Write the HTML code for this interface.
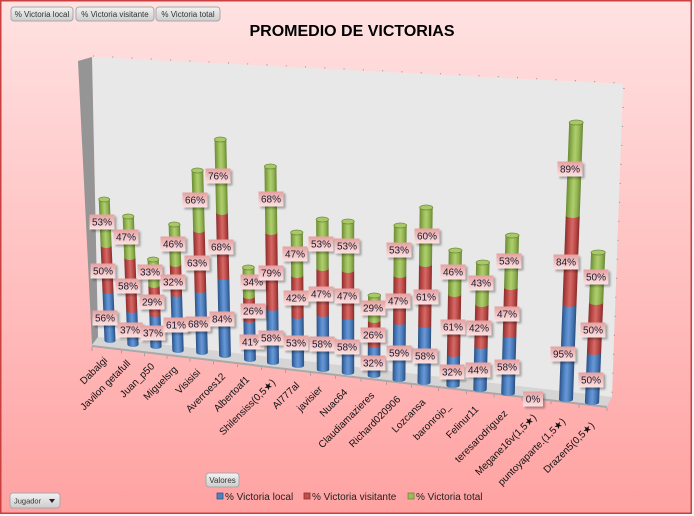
<!DOCTYPE html>
<html><head><meta charset="utf-8">
<style>
html,body{margin:0;padding:0;background:#f2f2f2;}
svg{display:block;font-family:"Liberation Sans","DejaVu Sans",sans-serif;}
.dl{font-size:10px;text-anchor:middle;fill:#1b1b2f;}
.ax{font-size:10px;text-anchor:end;fill:#111;}
.cap{fill:#a9c969;stroke:#6f8c3a;stroke-width:0.8;}
.bt{font-size:8px;fill:#333;text-anchor:middle;}
.lg{font-size:10px;fill:#222;}
</style></head><body>
<svg width="694" height="516" viewBox="0 0 694 516" xmlns="http://www.w3.org/2000/svg">
<defs>
<linearGradient id="bg" x1="0" y1="0" x2="0" y2="1">
<stop offset="0" stop-color="#ffe2e2"/><stop offset="1" stop-color="#ffa2a2"/></linearGradient>
<linearGradient id="gb" x1="0" y1="0" x2="1" y2="0">
<stop offset="0" stop-color="#2b5185"/><stop offset="0.3" stop-color="#4f83c4"/><stop offset="0.5" stop-color="#6898d6"/><stop offset="0.75" stop-color="#4a7bb8"/><stop offset="1" stop-color="#2a4e80"/></linearGradient>
<linearGradient id="gr" x1="0" y1="0" x2="1" y2="0">
<stop offset="0" stop-color="#8a2e2c"/><stop offset="0.3" stop-color="#c24f4c"/><stop offset="0.5" stop-color="#d46a67"/><stop offset="0.75" stop-color="#bd4b48"/><stop offset="1" stop-color="#872c2a"/></linearGradient>
<linearGradient id="gg" x1="0" y1="0" x2="1" y2="0">
<stop offset="0" stop-color="#6c8a36"/><stop offset="0.3" stop-color="#98ba56"/><stop offset="0.5" stop-color="#afcf6e"/><stop offset="0.75" stop-color="#94b553"/><stop offset="1" stop-color="#6a8735"/></linearGradient>
<linearGradient id="lgd" x1="0" y1="0" x2="0" y2="1">
<stop offset="0" stop-color="#e5a0a0"/><stop offset="1" stop-color="#fce3e3"/></linearGradient>
<linearGradient id="btn" x1="0" y1="0" x2="0" y2="1">
<stop offset="0" stop-color="#f2f2f2"/><stop offset="1" stop-color="#cdcdcd"/></linearGradient>
<filter id="bl" x="-30%" y="-50%" width="160%" height="200%"><feGaussianBlur stdDeviation="1.1"/></filter>
<g id="lb"><rect x="-10.5" y="-5.5" width="25" height="15" fill="#000" opacity="0.3" filter="url(#bl)"/><rect x="-12.5" y="-7.5" width="25" height="15" fill="url(#lgd)"/></g>
</defs>

<!-- background -->
<rect x="0.75" y="0.75" width="690.5" height="512.5" fill="url(#bg)" stroke="#c9403f" stroke-width="1.5"/>

<!-- title -->
<text x="352" y="36" text-anchor="middle" font-size="16" font-weight="bold" fill="#000">PROMEDIO DE VICTORIAS</text>

<!-- field buttons -->
<rect x="11" y="7" width="62" height="14" rx="3" fill="url(#btn)" stroke="#a8a8a8"/>
<text class="bt" x="42" y="17">% Victoria local</text>
<rect x="76" y="7" width="78" height="14" rx="3" fill="url(#btn)" stroke="#a8a8a8"/>
<text class="bt" x="115" y="17">% Victoria visitante</text>
<rect x="156" y="7" width="64" height="14" rx="3" fill="url(#btn)" stroke="#a8a8a8"/>
<text class="bt" x="188" y="17">% Victoria total</text>

<!-- walls -->
<polygon points="92,57 623,84 612,397 98,337" fill="#e8e8e8"/>
<polygon points="78,61 92,57 98,337 92,345" fill="#959595"/>
<polygon points="92,345 98,337 612,397 607,406" fill="#d5d5d5"/>
<polygon points="92,345 607,406 607,408 92,347" fill="#a9a9a9"/>
<line x1="93" y1="56" x2="622" y2="83" stroke="#9a9a9a" stroke-width="1.2" stroke-dasharray="1 18.3"/>
<line x1="624" y1="88" x2="612" y2="395" stroke="#9a9a9a" stroke-width="1.2" stroke-dasharray="1 18"/>
<path d="M92,347v4 M121.5,350.5v3 M144.5,353.2v3 M167,355.9v3 M190,358.6v3 M213.5,361.4v3 M237.5,364.2v3 M261.5,367.1v3 M285.5,369.9v3 M310.5,372.9v3 M335.5,375.8v3 M361,378.8v3 M386.5,381.9v3 M411.5,384.8v3 M438.5,388v3 M466.5,391.3v3 M494,394.6v3 M522,397.9v3 M551,401.3v3 M579,404.7v3 M607,408v3" stroke="#b49a9a" stroke-width="1" fill="none"/>

<!-- bars -->
<g transform="translate(110,340.5) skewX(2.34)">
<path fill="url(#gb)" d="M-5.5,-49 V0 A5.5,2.5 0 0 0 5.5,0 V-49 Z"/>
<path fill="url(#gr)" d="M-5.5,-95 V-49 A5.5,2.5 0 0 0 5.5,-49 V-95 Z"/>
<path fill="url(#gg)" d="M-5.5,-141 V-95 A5.5,2.5 0 0 0 5.5,-95 V-141 Z"/>
<ellipse class="cap" cy="-141" rx="5.5" ry="2.5"/></g>
<g transform="translate(133,344.5) skewX(2.11)">
<path fill="url(#gb)" d="M-5.6,-34 V0 A5.6,2.5 0 0 0 5.6,0 V-34 Z"/>
<path fill="url(#gr)" d="M-5.6,-87 V-34 A5.6,2.5 0 0 0 5.6,-34 V-87 Z"/>
<path fill="url(#gg)" d="M-5.6,-128 V-87 A5.6,2.5 0 0 0 5.6,-87 V-128 Z"/>
<ellipse class="cap" cy="-128" rx="5.6" ry="2.5"/></g>
<g transform="translate(156,346.5) skewX(1.89)">
<path fill="url(#gb)" d="M-5.6,-32 V0 A5.6,2.5 0 0 0 5.6,0 V-32 Z"/>
<path fill="url(#gr)" d="M-5.6,-61 V-32 A5.6,2.5 0 0 0 5.6,-32 V-61 Z"/>
<path fill="url(#gg)" d="M-5.6,-87 V-61 A5.6,2.5 0 0 0 5.6,-61 V-87 Z"/>
<ellipse class="cap" cy="-87" rx="5.6" ry="2.5"/></g>
<g transform="translate(178,350.5) skewX(1.67)">
<path fill="url(#gb)" d="M-5.7,-56 V0 A5.7,2.5 0 0 0 5.7,0 V-56 Z"/>
<path fill="url(#gr)" d="M-5.7,-86 V-56 A5.7,2.5 0 0 0 5.7,-56 V-86 Z"/>
<path fill="url(#gg)" d="M-5.7,-126 V-86 A5.7,2.5 0 0 0 5.7,-86 V-126 Z"/>
<ellipse class="cap" cy="-126" rx="5.7" ry="2.5"/></g>
<g transform="translate(202,352.5) skewX(1.44)">
<path fill="url(#gb)" d="M-5.8,-62 V0 A5.8,2.5 0 0 0 5.8,0 V-62 Z"/>
<path fill="url(#gr)" d="M-5.8,-122 V-62 A5.8,2.5 0 0 0 5.8,-62 V-122 Z"/>
<path fill="url(#gg)" d="M-5.8,-182 V-122 A5.8,2.5 0 0 0 5.8,-122 V-182 Z"/>
<ellipse class="cap" cy="-182" rx="5.8" ry="2.5"/></g>
<g transform="translate(225,355.5) skewX(1.22)">
<path fill="url(#gb)" d="M-5.9,-78 V0 A5.9,2.5 0 0 0 5.9,0 V-78 Z"/>
<path fill="url(#gr)" d="M-5.9,-143 V-78 A5.9,2.5 0 0 0 5.9,-78 V-143 Z"/>
<path fill="url(#gg)" d="M-5.9,-216 V-143 A5.9,2.5 0 0 0 5.9,-143 V-216 Z"/>
<ellipse class="cap" cy="-216" rx="5.9" ry="2.5"/></g>
<g transform="translate(250,359.5) skewX(0.97)">
<path fill="url(#gb)" d="M-5.9,-39 V0 A5.9,2.5 0 0 0 5.9,0 V-39 Z"/>
<path fill="url(#gr)" d="M-5.9,-63 V-39 A5.9,2.5 0 0 0 5.9,-39 V-63 Z"/>
<path fill="url(#gg)" d="M-5.9,-92 V-63 A5.9,2.5 0 0 0 5.9,-63 V-92 Z"/>
<ellipse class="cap" cy="-92" rx="5.9" ry="2.5"/></g>
<g transform="translate(273,362.5) skewX(0.75)">
<path fill="url(#gb)" d="M-6,-54 V0 A6,2.5 0 0 0 6,0 V-54 Z"/>
<path fill="url(#gr)" d="M-6,-130 V-54 A6,2.5 0 0 0 6,-54 V-130 Z"/>
<path fill="url(#gg)" d="M-6,-196 V-130 A6,2.5 0 0 0 6,-130 V-196 Z"/>
<ellipse class="cap" cy="-196" rx="6" ry="2.5"/></g>
<g transform="translate(298,365.5) skewX(0.51)">
<path fill="url(#gb)" d="M-6.1,-49 V0 A6.1,2.5 0 0 0 6.1,0 V-49 Z"/>
<path fill="url(#gr)" d="M-6.1,-90 V-49 A6.1,2.5 0 0 0 6.1,-49 V-90 Z"/>
<path fill="url(#gg)" d="M-6.1,-133 V-90 A6.1,2.5 0 0 0 6.1,-90 V-133 Z"/>
<ellipse class="cap" cy="-133" rx="6.1" ry="2.5"/></g>
<g transform="translate(323,369.5) skewX(0.26)">
<path fill="url(#gb)" d="M-6.2,-55 V0 A6.2,2.5 0 0 0 6.2,0 V-55 Z"/>
<path fill="url(#gr)" d="M-6.2,-101 V-55 A6.2,2.5 0 0 0 6.2,-55 V-101 Z"/>
<path fill="url(#gg)" d="M-6.2,-150 V-101 A6.2,2.5 0 0 0 6.2,-101 V-150 Z"/>
<ellipse class="cap" cy="-150" rx="6.2" ry="2.5"/></g>
<g transform="translate(348,372.5)">
<path fill="url(#gb)" d="M-6.2,-55 V0 A6.2,2.5 0 0 0 6.2,0 V-55 Z"/>
<path fill="url(#gr)" d="M-6.2,-102 V-55 A6.2,2.5 0 0 0 6.2,-55 V-102 Z"/>
<path fill="url(#gg)" d="M-6.2,-151 V-102 A6.2,2.5 0 0 0 6.2,-102 V-151 Z"/>
<ellipse class="cap" cy="-151" rx="6.2" ry="2.5"/></g>
<g transform="translate(374,375.5) skewX(-0.23)">
<path fill="url(#gb)" d="M-6.3,-30 V0 A6.3,2.5 0 0 0 6.3,0 V-30 Z"/>
<path fill="url(#gr)" d="M-6.3,-55 V-30 A6.3,2.5 0 0 0 6.3,-30 V-55 Z"/>
<path fill="url(#gg)" d="M-6.3,-80 V-55 A6.3,2.5 0 0 0 6.3,-55 V-80 Z"/>
<ellipse class="cap" cy="-80" rx="6.3" ry="2.5"/></g>
<g transform="translate(399,379.5) skewX(-0.48)">
<path fill="url(#gb)" d="M-6.4,-57 V0 A6.4,2.5 0 0 0 6.4,0 V-57 Z"/>
<path fill="url(#gr)" d="M-6.4,-104 V-57 A6.4,2.5 0 0 0 6.4,-57 V-104 Z"/>
<path fill="url(#gg)" d="M-6.4,-154 V-104 A6.4,2.5 0 0 0 6.4,-104 V-154 Z"/>
<ellipse class="cap" cy="-154" rx="6.4" ry="2.5"/></g>
<g transform="translate(424,382.5) skewX(-0.72)">
<path fill="url(#gb)" d="M-6.5,-57 V0 A6.5,2.5 0 0 0 6.5,0 V-57 Z"/>
<path fill="url(#gr)" d="M-6.5,-118 V-57 A6.5,2.5 0 0 0 6.5,-57 V-118 Z"/>
<path fill="url(#gg)" d="M-6.5,-175 V-118 A6.5,2.5 0 0 0 6.5,-118 V-175 Z"/>
<ellipse class="cap" cy="-175" rx="6.5" ry="2.5"/></g>
<g transform="translate(453,385.5) skewX(-1)">
<path fill="url(#gb)" d="M-6.6,-31 V0 A6.6,2.5 0 0 0 6.6,0 V-31 Z"/>
<path fill="url(#gr)" d="M-6.6,-91 V-31 A6.6,2.5 0 0 0 6.6,-31 V-91 Z"/>
<path fill="url(#gg)" d="M-6.6,-135 V-91 A6.6,2.5 0 0 0 6.6,-91 V-135 Z"/>
<ellipse class="cap" cy="-135" rx="6.6" ry="2.5"/></g>
<g transform="translate(480,389.5) skewX(-1.27)">
<path fill="url(#gb)" d="M-6.7,-43 V0 A6.7,2.5 0 0 0 6.7,0 V-43 Z"/>
<path fill="url(#gr)" d="M-6.7,-85 V-43 A6.7,2.5 0 0 0 6.7,-43 V-85 Z"/>
<path fill="url(#gg)" d="M-6.7,-127 V-85 A6.7,2.5 0 0 0 6.7,-85 V-127 Z"/>
<ellipse class="cap" cy="-127" rx="6.7" ry="2.5"/></g>
<g transform="translate(508,393.5) skewX(-1.54)">
<path fill="url(#gb)" d="M-6.8,-58 V0 A6.8,2.5 0 0 0 6.8,0 V-58 Z"/>
<path fill="url(#gr)" d="M-6.8,-106 V-58 A6.8,2.5 0 0 0 6.8,-58 V-106 Z"/>
<path fill="url(#gg)" d="M-6.8,-158 V-106 A6.8,2.5 0 0 0 6.8,-106 V-158 Z"/>
<ellipse class="cap" cy="-158" rx="6.8" ry="2.5"/></g>
<g transform="translate(566,399.5) skewX(-2.1)">
<path fill="url(#gb)" d="M-7,-95 V0 A7,2.5 0 0 0 7,0 V-95 Z"/>
<path fill="url(#gr)" d="M-7,-184 V-95 A7,2.5 0 0 0 7,-95 V-184 Z"/>
<path fill="url(#gg)" d="M-7,-277 V-184 A7,2.5 0 0 0 7,-184 V-277 Z"/>
<ellipse class="cap" cy="-277" rx="7" ry="2.5"/></g>
<g transform="translate(592,402.5) skewX(-2.36)">
<path fill="url(#gb)" d="M-7.1,-50 V0 A7.1,2.5 0 0 0 7.1,0 V-50 Z"/>
<path fill="url(#gr)" d="M-7.1,-100 V-50 A7.1,2.5 0 0 0 7.1,-50 V-100 Z"/>
<path fill="url(#gg)" d="M-7.1,-150 V-100 A7.1,2.5 0 0 0 7.1,-100 V-150 Z"/>
<ellipse class="cap" cy="-150" rx="7.1" ry="2.5"/></g>

<!-- data labels -->
<g class="dl">
<g transform="translate(105,318)"><use href="#lb"/><text y="3.5">56%</text></g>
<g transform="translate(103,271)"><use href="#lb"/><text y="3.5">50%</text></g>
<g transform="translate(102,222)"><use href="#lb"/><text y="3.5">53%</text></g>
<g transform="translate(130,330)"><use href="#lb"/><text y="3.5">37%</text></g>
<g transform="translate(128,286)"><use href="#lb"/><text y="3.5">58%</text></g>
<g transform="translate(126,237)"><use href="#lb"/><text y="3.5">47%</text></g>
<g transform="translate(153,333)"><use href="#lb"/><text y="3.5">37%</text></g>
<g transform="translate(152,302)"><use href="#lb"/><text y="3.5">29%</text></g>
<g transform="translate(150,272)"><use href="#lb"/><text y="3.5">33%</text></g>
<g transform="translate(176,325)"><use href="#lb"/><text y="3.5">61%</text></g>
<g transform="translate(173,282)"><use href="#lb"/><text y="3.5">32%</text></g>
<g transform="translate(173,244)"><use href="#lb"/><text y="3.5">46%</text></g>
<g transform="translate(198,324)"><use href="#lb"/><text y="3.5">68%</text></g>
<g transform="translate(197,263)"><use href="#lb"/><text y="3.5">63%</text></g>
<g transform="translate(195,200)"><use href="#lb"/><text y="3.5">66%</text></g>
<g transform="translate(222,319)"><use href="#lb"/><text y="3.5">84%</text></g>
<g transform="translate(221,247)"><use href="#lb"/><text y="3.5">68%</text></g>
<g transform="translate(218,176)"><use href="#lb"/><text y="3.5">76%</text></g>
<g transform="translate(252,342)"><use href="#lb"/><text y="3.5">41%</text></g>
<g transform="translate(253,311)"><use href="#lb"/><text y="3.5">26%</text></g>
<g transform="translate(253,282)"><use href="#lb"/><text y="3.5">34%</text></g>
<g transform="translate(271,338)"><use href="#lb"/><text y="3.5">58%</text></g>
<g transform="translate(271,273)"><use href="#lb"/><text y="3.5">79%</text></g>
<g transform="translate(271,199)"><use href="#lb"/><text y="3.5">68%</text></g>
<g transform="translate(296,343)"><use href="#lb"/><text y="3.5">53%</text></g>
<g transform="translate(296,298)"><use href="#lb"/><text y="3.5">42%</text></g>
<g transform="translate(295,254)"><use href="#lb"/><text y="3.5">47%</text></g>
<g transform="translate(322,344)"><use href="#lb"/><text y="3.5">58%</text></g>
<g transform="translate(321,294)"><use href="#lb"/><text y="3.5">47%</text></g>
<g transform="translate(321,244)"><use href="#lb"/><text y="3.5">53%</text></g>
<g transform="translate(347,347)"><use href="#lb"/><text y="3.5">58%</text></g>
<g transform="translate(347,296)"><use href="#lb"/><text y="3.5">47%</text></g>
<g transform="translate(347,246)"><use href="#lb"/><text y="3.5">53%</text></g>
<g transform="translate(373,363)"><use href="#lb"/><text y="3.5">32%</text></g>
<g transform="translate(373,335)"><use href="#lb"/><text y="3.5">26%</text></g>
<g transform="translate(373,308)"><use href="#lb"/><text y="3.5">29%</text></g>
<g transform="translate(399,353)"><use href="#lb"/><text y="3.5">59%</text></g>
<g transform="translate(398,301)"><use href="#lb"/><text y="3.5">47%</text></g>
<g transform="translate(399,250)"><use href="#lb"/><text y="3.5">53%</text></g>
<g transform="translate(425,356)"><use href="#lb"/><text y="3.5">58%</text></g>
<g transform="translate(426,297)"><use href="#lb"/><text y="3.5">61%</text></g>
<g transform="translate(427,236)"><use href="#lb"/><text y="3.5">60%</text></g>
<g transform="translate(452,372)"><use href="#lb"/><text y="3.5">32%</text></g>
<g transform="translate(453,327)"><use href="#lb"/><text y="3.5">61%</text></g>
<g transform="translate(453,272)"><use href="#lb"/><text y="3.5">46%</text></g>
<g transform="translate(478,370)"><use href="#lb"/><text y="3.5">44%</text></g>
<g transform="translate(479,328)"><use href="#lb"/><text y="3.5">42%</text></g>
<g transform="translate(481,283)"><use href="#lb"/><text y="3.5">43%</text></g>
<g transform="translate(507,367)"><use href="#lb"/><text y="3.5">58%</text></g>
<g transform="translate(507,314)"><use href="#lb"/><text y="3.5">47%</text></g>
<g transform="translate(509,261)"><use href="#lb"/><text y="3.5">53%</text></g>
<g transform="translate(533,399)"><rect x="-8" y="-5.5" width="20" height="15" fill="#000" opacity="0.3" filter="url(#bl)"/><rect x="-10" y="-7.5" width="20" height="15" fill="url(#lgd)"/><text y="3.5">0%</text></g>
<g transform="translate(563,354)"><use href="#lb"/><text y="3.5">95%</text></g>
<g transform="translate(566,262)"><use href="#lb"/><text y="3.5">84%</text></g>
<g transform="translate(570,169)"><use href="#lb"/><text y="3.5">89%</text></g>
<g transform="translate(591,380)"><use href="#lb"/><text y="3.5">50%</text></g>
<g transform="translate(593,330)"><use href="#lb"/><text y="3.5">50%</text></g>
<g transform="translate(596,277)"><use href="#lb"/><text y="3.5">50%</text></g>
</g>

<!-- axis labels -->
<g class="ax">
<text transform="translate(108,361) rotate(-45)">Dabalgi</text>
<text transform="translate(131,364) rotate(-45)">Javilon getafull</text>
<text transform="translate(155,367) rotate(-45)">Juan_p50</text>
<text transform="translate(178,370) rotate(-45)">Miguelsrg</text>
<text transform="translate(201,373) rotate(-45)">Visisisi</text>
<text transform="translate(226,377) rotate(-45)">Averroes12</text>
<text transform="translate(250,380) rotate(-45)">Albertoaf1</text>
<text transform="translate(276,383) rotate(-45)">Shilensiss(0,5★)</text>
<text transform="translate(300,386) rotate(-45)">Al777al</text>
<text transform="translate(323,390) rotate(-45)">javisier</text>
<text transform="translate(348,393) rotate(-45)">Nuac64</text>
<text transform="translate(375,396) rotate(-45)">Claudiamazieres</text>
<text transform="translate(401,400) rotate(-45)">Richard020906</text>
<text transform="translate(426,403) rotate(-45)">Lozcansa</text>
<text transform="translate(451,407) rotate(-45)">baronrojo_</text>
<text transform="translate(479,410) rotate(-45)">Felinur11</text>
<text transform="translate(508,414) rotate(-45)">teresarodriguez</text>
<text transform="translate(537,418) rotate(-45)">Megane16v(1,5★)</text>
<text transform="translate(566,422) rotate(-45)">puntoyaparte.(1,5★)</text>
<text transform="translate(595,426) rotate(-45)">Drazen5(0,5★)</text>
</g>

<!-- Valores button -->
<rect x="206" y="473" width="33" height="14" rx="3" fill="url(#btn)" stroke="#a8a8a8"/>
<text class="bt" x="222.5" y="483" font-size="7.5">Valores</text>

<!-- legend -->
<rect x="217" y="493" width="6" height="6" fill="#4f81bd" stroke="#2f5689" stroke-width="0.8"/>
<text class="lg" x="225" y="500">% Victoria local</text>
<rect x="304" y="493" width="6" height="6" fill="#c0504d" stroke="#8a2e2c" stroke-width="0.8"/>
<text class="lg" x="312" y="500">% Victoria visitante</text>
<rect x="408" y="493" width="6" height="6" fill="#9bbb59" stroke="#6c8a36" stroke-width="0.8"/>
<text class="lg" x="416" y="500">% Victoria total</text>

<!-- Jugador dropdown -->
<rect x="10" y="493" width="50" height="15" rx="3" fill="url(#btn)" stroke="#a8a8a8"/>
<text x="14" y="503.5" font-size="7.5" fill="#333">Jugador</text>
<path d="M49,499 L55,499 L52,503 Z" fill="#222"/>
</svg>
</body></html>
